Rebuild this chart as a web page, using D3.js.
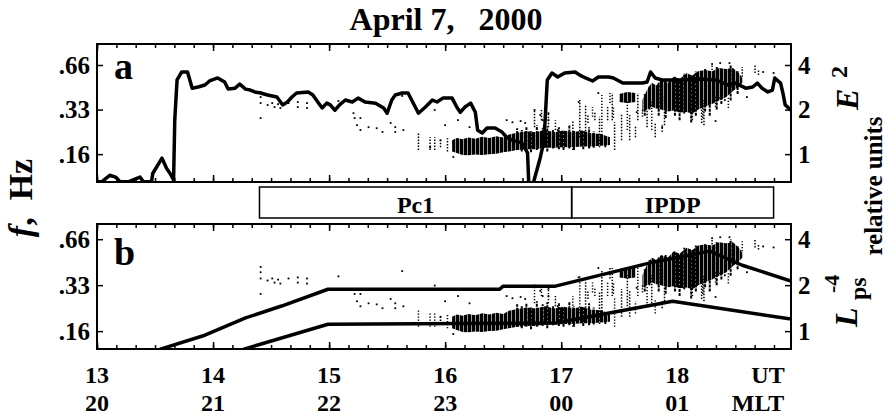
<!DOCTYPE html>
<html lang="en">
<head>
<meta charset="UTF-8">
<title>April 7, 2000</title>
<style>
  body { margin: 0; background: #fff; }
  svg { display: block; font-family: "Liberation Serif", "Times New Roman", serif; font-weight: bold; }
</style>
</head>
<body>
<div id="wrapper"></div>
<script src="https://d3js.org/d3.v7.min.js"></script>
<script>
// ---- axis labels ----
const utHours = [13, 14, 15, 16, 17, 18];
const mltLabels = ['20', '21', '22', '23', '00', '01'];
const fTicks = [0.66, 0.33, 0.165];          // Hz
const fTickLabels = ['.66', '.33', '.16'];
const relTicks = [4, 2, 1];                  // relative units

// ---- event intervals (UT) ----
const bandNames = ['Pc1', 'IPDP'];
const bandStart = [14.40, 17.09];
const bandEnd = [17.09, 18.83];

// ---- panel a: E^2, relative units ----
const e2Line = [
  [13.00, 0.65], [13.04, 0.65], [13.11, 0.72], [13.16, 0.70], [13.20, 0.65], [13.27, 0.65], [13.37, 0.70],
  [13.40, 0.65], [13.47, 0.65], [13.48, 0.74], [13.56, 0.94], [13.60, 0.80], [13.63, 0.74], [13.66, 0.67],
  [13.67, 1.70], [13.69, 3.17], [13.73, 3.59], [13.78, 3.59], [13.80, 3.17], [13.82, 2.79], [13.87, 2.84],
  [13.93, 2.93], [13.97, 3.12], [14.04, 3.27], [14.10, 3.07], [14.13, 2.75], [14.19, 2.79], [14.23, 2.97],
  [14.28, 2.75], [14.32, 2.71], [14.36, 2.63], [14.41, 2.59], [14.47, 2.51], [14.55, 2.43], [14.60, 2.15],
  [14.64, 2.25], [14.68, 2.43], [14.72, 2.59], [14.82, 2.63], [14.86, 2.51], [14.91, 2.21], [14.94, 2.05],
  [14.98, 2.21], [15.01, 2.15], [15.05, 1.98], [15.09, 2.15], [15.14, 2.32], [15.20, 2.25], [15.25, 2.39],
  [15.31, 2.25], [15.40, 2.21], [15.47, 2.05], [15.50, 1.89], [15.54, 2.32], [15.57, 2.51], [15.63, 2.59],
  [15.68, 2.59], [15.72, 2.25], [15.77, 1.89], [15.83, 2.08], [15.89, 2.32], [15.93, 2.25], [15.98, 2.39],
  [16.06, 2.39], [16.10, 2.08], [16.13, 1.92], [16.17, 2.08], [16.22, 2.21], [16.26, 1.92], [16.28, 1.45],
  [16.32, 1.39], [16.36, 1.50], [16.43, 1.50], [16.49, 1.41], [16.53, 1.30], [16.58, 1.24], [16.66, 1.19],
  [16.71, 1.02], [16.72, 0.64], [16.76, 0.64], [16.82, 0.95], [16.84, 1.12], [16.86, 1.62], [16.88, 3.17],
  [16.92, 3.53], [16.97, 3.32], [17.03, 3.53], [17.12, 3.59], [17.16, 3.42], [17.21, 3.27], [17.27, 3.12],
  [17.32, 3.32], [17.41, 3.32], [17.45, 3.27], [17.53, 3.02], [17.61, 3.02], [17.70, 3.02], [17.74, 3.07],
  [17.77, 3.59], [17.81, 3.27], [17.87, 3.17], [18.03, 3.17], [18.20, 3.22], [18.33, 3.17], [18.44, 2.93],
  [18.50, 3.02], [18.59, 2.79], [18.65, 2.84], [18.69, 3.02], [18.73, 2.79], [18.78, 2.63], [18.82, 2.71],
  [18.84, 3.27], [18.89, 3.02], [18.91, 2.59], [18.93, 2.15], [18.96, 2.05], [18.98, 1.98]
];

// ---- panel b: Lps^-4, relative units ----
const lpsUpper = [[13.54, 0.76], [13.93, 0.94], [14.28, 1.22], [14.59, 1.46], [14.99, 1.88], [16.47, 1.88],
  [16.50, 1.97], [16.95, 1.97], [17.81, 2.85], [18.28, 3.34], [18.56, 2.70], [18.98, 2.13]];
const lpsLower = [[14.26, 0.76], [14.99, 1.11], [16.95, 1.13], [17.96, 1.57], [18.98, 1.20]];

// ---- spectrogram emissions: [UT, fLow, fHigh] in Hz ----
const pc1Core = [[16.06, 0.172, 0.205], [16.10, 0.168, 0.212], [16.15, 0.163, 0.208], [16.20, 0.162, 0.214],
  [16.26, 0.164, 0.210], [16.32, 0.163, 0.216], [16.38, 0.165, 0.212], [16.44, 0.166, 0.218], [16.50, 0.170, 0.214],
  [16.55, 0.172, 0.224], [16.62, 0.176, 0.230], [16.70, 0.178, 0.236], [16.78, 0.178, 0.232], [16.86, 0.182, 0.240],
  [16.94, 0.182, 0.232], [17.02, 0.184, 0.238], [17.10, 0.184, 0.232], [17.18, 0.186, 0.238], [17.26, 0.186, 0.228],
  [17.34, 0.188, 0.226], [17.42, 0.190, 0.215]];
const ipdpCore = [[17.70, 0.317, 0.383], [17.74, 0.330, 0.450], [17.78, 0.345, 0.500], [17.82, 0.335, 0.480],
  [17.86, 0.330, 0.520], [17.92, 0.320, 0.500], [17.97, 0.325, 0.550], [18.02, 0.315, 0.530], [18.08, 0.318, 0.580],
  [18.13, 0.310, 0.560], [18.18, 0.330, 0.600], [18.24, 0.345, 0.610], [18.30, 0.360, 0.600], [18.36, 0.380, 0.630],
  [18.42, 0.400, 0.620], [18.48, 0.440, 0.630], [18.53, 0.470, 0.580], [18.56, 0.500, 0.540]];
const ipdpPatch = [[17.50, 0.371, 0.420], [17.57, 0.365, 0.434], [17.64, 0.371, 0.427]];
const denseCols = [
  [16.62, 0.176, 0.247], [16.66, 0.172, 0.240], [16.70, 0.176, 0.251], [16.74, 0.170, 0.236], [16.79, 0.176, 0.259],
  [16.84, 0.178, 0.247], [16.88, 0.172, 0.255], [16.93, 0.180, 0.240], [16.98, 0.178, 0.251], [17.02, 0.176, 0.236],
  [17.07, 0.180, 0.259], [17.11, 0.176, 0.240], [17.19, 0.178, 0.236], [17.24, 0.180, 0.251], [17.28, 0.182, 0.236],
  [17.38, 0.184, 0.215], [17.72, 0.300, 0.420], [17.76, 0.330, 0.480], [17.84, 0.300, 0.500], [17.90, 0.290, 0.520],
  [17.98, 0.300, 0.550], [18.02, 0.280, 0.520], [18.06, 0.310, 0.580], [18.12, 0.270, 0.560], [18.16, 0.300, 0.600],
  [18.24, 0.320, 0.620], [18.28, 0.300, 0.580], [18.34, 0.330, 0.640], [18.38, 0.360, 0.620], [18.46, 0.380, 0.660],
  [18.52, 0.420, 0.600]
];
const sparseCols = [
  [15.77, 0.176, 0.229], [15.87, 0.176, 0.215], [15.91, 0.176, 0.215], [15.96, 0.184, 0.205], [16.02, 0.172, 0.211],
  [16.77, 0.251, 0.328], [16.83, 0.280, 0.328], [16.89, 0.251, 0.312], [16.95, 0.240, 0.280],
  [17.10, 0.176, 0.280], [17.16, 0.215, 0.383], [17.21, 0.205, 0.354], [17.23, 0.268, 0.303], [17.27, 0.295, 0.343],
  [17.29, 0.280, 0.317], [17.33, 0.184, 0.295], [17.35, 0.222, 0.414], [17.40, 0.280, 0.343], [17.42, 0.365, 0.427],
  [17.44, 0.280, 0.427], [17.45, 0.289, 0.343], [17.46, 0.176, 0.271], [17.52, 0.205, 0.312], [17.57, 0.240, 0.383],
  [17.59, 0.205, 0.303], [17.64, 0.215, 0.259], [17.66, 0.280, 0.427], [17.70, 0.295, 0.338], [17.74, 0.251, 0.328],
  [17.78, 0.240, 0.383], [17.81, 0.215, 0.268], [17.87, 0.233, 0.259], [17.89, 0.259, 0.414], [18.13, 0.280, 0.414],
  [18.21, 0.268, 0.354], [18.23, 0.259, 0.383], [18.22, 0.289, 0.365], [18.33, 0.343, 0.401], [18.44, 0.338, 0.401],
  [18.30, 0.610, 0.660], [18.56, 0.550, 0.640], [18.67, 0.583, 0.660], [18.70, 0.565, 0.610]
];
const sparseDots = [
  [14.41, 0.434], [14.41, 0.401], [14.41, 0.365], [14.41, 0.289], [14.47, 0.354], [14.51, 0.365], [14.53, 0.343],
  [14.56, 0.359], [14.58, 0.338], [14.65, 0.365], [14.73, 0.371], [14.73, 0.343], [14.81, 0.365], [14.81, 0.338],
  [15.08, 0.377], [15.21, 0.312], [15.22, 0.289], [15.27, 0.289], [15.24, 0.259], [15.27, 0.240], [15.34, 0.251],
  [15.41, 0.247], [15.46, 0.233], [15.53, 0.268], [15.57, 0.251], [15.57, 0.233], [15.64, 0.240], [15.63, 0.408],
  [15.87, 0.184], [15.91, 0.328], [15.96, 0.205], [16.00, 0.259], [16.11, 0.280], [16.07, 0.158], [16.21, 0.251],
  [16.53, 0.280], [16.58, 0.271], [16.65, 0.276], [16.69, 0.268], [16.77, 0.328], [16.82, 0.303], [16.84, 0.280],
  [16.89, 0.312], [16.89, 0.280], [16.97, 0.240], [17.32, 0.427], [17.15, 0.371], [17.65, 0.317], [17.87, 0.251],
  [18.33, 0.276], [18.60, 0.401], [18.74, 0.592], [18.83, 0.583], [18.37, 0.395], [18.41, 0.383], [18.30, 0.670],
  [18.37, 0.680], [18.45, 0.680], [17.33, 0.205], [17.25, 0.198]
];

const relUnit = 0.165; // Hz per relative unit (right axis)

// ---- svg ----
const svg = d3.select('#wrapper').append('svg').attr('width', 888).attr('height', 416);

svg.append('defs').append('pattern')
  .attr('id', 'dense').attr('patternUnits', 'userSpaceOnUse')
  .attr('width', 4).attr('height', 4)
  .append('rect').attr('width', 3.4).attr('height', 4).attr('fill', '#000');

const x = d3.scaleLinear().domain([13, 18.98]).range([97, 791]);
const minorT = d3.range(0, 36).map(i => 13 + i / 6).filter(t => t <= 18.98);

const panels = [
  { name: 'a', top: 44, bottom: 182, fDomain: [0.107, 0.915], labelY: 79 },
  { name: 'b', top: 224, bottom: 349, fDomain: [0.126, 0.83], labelY: 265 }
];

panels.forEach((p, pi) => {
  const yF = d3.scaleLog().domain(p.fDomain).range([p.bottom, p.top]);
  const yR = d3.scaleLog().domain(p.fDomain.map(f => f / relUnit)).range([p.bottom, p.top]);

  svg.append('clipPath').attr('id', 'clip' + pi)
    .append('rect').attr('x', 97).attr('y', p.top).attr('width', 694).attr('height', p.bottom - p.top);
  const g = svg.append('g').attr('clip-path', `url(#clip${pi})`);

  // emissions
  const area = d3.area().x(d => x(d[0])).y0(d => yF(d[1])).y1(d => yF(d[2]));
  [pc1Core, ipdpCore, ipdpPatch].forEach(b => {
    g.append('path').attr('d', area(b)).attr('fill', 'url(#dense)');
  });
  g.selectAll('line.dcol').data(denseCols).join('line')
    .attr('class', 'dcol')
    .attr('x1', d => x(d[0])).attr('x2', d => x(d[0]))
    .attr('y1', d => yF(d[1])).attr('y2', d => yF(d[2]))
    .attr('stroke', '#000').attr('stroke-width', 2).attr('stroke-dasharray', '3,1');
  g.selectAll('line.col').data(sparseCols).join('line')
    .attr('class', 'col')
    .attr('x1', d => x(d[0])).attr('x2', d => x(d[0]))
    .attr('y1', d => yF(d[1])).attr('y2', d => yF(d[2]))
    .attr('stroke', '#000').attr('stroke-width', 1.5).attr('stroke-dasharray', '1.4,1.6');
  g.selectAll('rect.dot').data(sparseDots).join('rect')
    .attr('class', 'dot')
    .attr('x', d => x(d[0]) - 0.9).attr('y', d => yF(d[1]) - 0.9)
    .attr('width', 1.8).attr('height', 1.8).attr('fill', '#000');

  // curves
  const line = d3.line().x(d => x(d[0])).y(d => yR(d[1]));
  const curves = pi === 0 ? [e2Line] : [lpsUpper, lpsLower];
  curves.forEach(c => {
    g.append('path').attr('d', line(c)).attr('fill', 'none')
      .attr('stroke', '#000').attr('stroke-width', 3.5).attr('stroke-linejoin', 'round');
  });

  // frame
  svg.append('rect').attr('x', 97).attr('y', p.top).attr('width', 694).attr('height', p.bottom - p.top)
    .attr('fill', 'none').attr('stroke', '#000').attr('stroke-width', 2);

  // inward time ticks on top and bottom edges
  [[p.top, d3.axisTop], [p.bottom, d3.axisBottom]].forEach(([yy, ax]) => {
    const minor = svg.append('g').attr('transform', `translate(0,${yy})`)
      .call(ax(x).tickValues(minorT).tickSize(-4).tickSizeOuter(0).tickFormat(''));
    const major = svg.append('g').attr('transform', `translate(0,${yy})`)
      .call(ax(x).tickValues(utHours).tickSize(-7).tickSizeOuter(0).tickFormat(''));
    [minor, major].forEach(a => {
      a.select('.domain').remove();
      a.selectAll('line').attr('stroke-width', 1.5);
    });
  });

  // left frequency axis
  const left = svg.append('g').attr('transform', 'translate(97,0)')
    .call(d3.axisLeft(yF).tickValues(fTicks).tickSize(-6).tickPadding(7)
      .tickFormat((d, i) => fTickLabels[i]));
  // right relative-units axis
  const right = svg.append('g').attr('transform', 'translate(791,0)')
    .call(d3.axisRight(yR).tickValues(relTicks).tickSize(-6).tickPadding(7).tickFormat(d3.format('d')));
  [left, right].forEach(a => {
    a.select('.domain').remove();
    a.attr('font-family', null).attr('font-size', 25);
    a.selectAll('line').attr('stroke-width', 1.5);
    a.selectAll('text').attr('fill', '#000');
  });

  svg.append('text').attr('x', 114).attr('y', p.labelY).attr('font-size', 38).text(p.name);
});

// Pc1 / IPDP interval boxes
bandNames.forEach((n, i) => {
  svg.append('rect').attr('x', x(bandStart[i])).attr('y', 187)
    .attr('width', x(bandEnd[i]) - x(bandStart[i])).attr('height', 31)
    .attr('fill', 'none').attr('stroke', '#000').attr('stroke-width', 1.5);
  svg.append('text').attr('x', (x(bandStart[i]) + x(bandEnd[i])) / 2).attr('y', 213)
    .attr('text-anchor', 'middle').attr('font-size', 24).text(n);
});

// title
svg.append('text').attr('x', 446).attr('y', 30).attr('text-anchor', 'middle')
  .attr('font-size', 32).text('April 7,\u00a0\u00a0\u00a02000');

// bottom time labels
svg.selectAll('text.ut').data(utHours).join('text').attr('class', 'ut')
  .attr('x', d => x(d)).attr('y', 383).attr('text-anchor', 'middle').attr('font-size', 24).text(d => d);
svg.selectAll('text.mlt').data(mltLabels).join('text').attr('class', 'mlt')
  .attr('x', (d, i) => x(utHours[i])).attr('y', 411).attr('text-anchor', 'middle').attr('font-size', 24).text(d => d);
svg.append('text').attr('x', 768).attr('y', 383).attr('text-anchor', 'middle').attr('font-size', 24).text('UT');
svg.append('text').attr('x', 758).attr('y', 411).attr('text-anchor', 'middle').attr('font-size', 24).text('MLT');

// f, Hz
const fl = svg.append('text').attr('transform', 'translate(32,198) rotate(-90)')
  .attr('text-anchor', 'middle').attr('font-size', 34);
fl.append('tspan').attr('font-style', 'italic').text('f');
fl.append('tspan').text(',\u00a0\u00a0Hz');

// E^2
const e2 = svg.append('g').attr('transform', 'translate(858,110) rotate(-90)');
e2.append('text').attr('font-size', 32).attr('font-style', 'italic').text('E');
e2.append('text').attr('x', 32).attr('y', -11).attr('font-size', 24).text('2');

// relative units
svg.append('text').attr('transform', 'translate(882,186) rotate(-90)')
  .attr('text-anchor', 'middle').attr('font-size', 25).text('relative units');

// L_ps^-4
const lp = svg.append('g').attr('transform', 'translate(857,327) rotate(-90)');
lp.append('text').attr('font-size', 32).attr('font-style', 'italic').text('L');
lp.append('text').attr('x', 34).attr('y', -18).attr('font-size', 22).text('-4');
lp.append('text').attr('x', 27).attr('y', 9).attr('font-size', 24).text('ps');
</script>
</body>
</html>
